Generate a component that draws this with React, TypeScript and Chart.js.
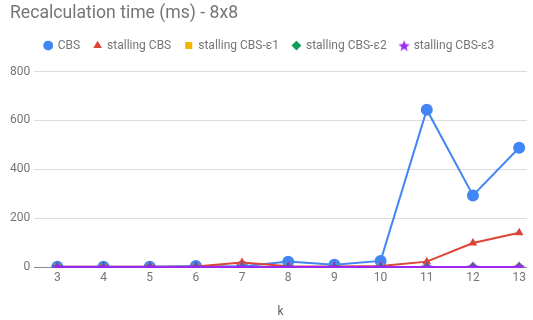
import React, { useEffect, useRef } from "react";
import { Chart, registerables } from "chart.js";

Chart.register(...registerables);

const kValues = [3, 4, 5, 6, 7, 8, 9, 10, 11, 12, 13];
const cbs = [1, 1, 1, 4, 2, 22, 9, 25, 644, 293, 488];
const stallingCbs = [1, 1, 1, 2, 18, 3, 2, 4, 22, 98, 140];
const stallingE1 = [0, 0, 0, 0, 0, 0, 0, 0, 0, 0, 0];
const stallingE2 = [0, 0, 0, 0, 0, 0, 0, 0, 0, 0, 0];
const stallingE3 = [0, 0, 0, 0, 0, 0, 0, 0, 0, 0, 0];
const yTicks = [0, 200, 400, 600, 800];
const titleText = "Recalculation time (ms) - 8x8";

const seriesNames = ["CBS", "stalling CBS", "stalling CBS-ε1", "stalling CBS-ε2", "stalling CBS-ε3"];
const seriesValues = [cbs, stallingCbs, stallingE1, stallingE2, stallingE3];
const seriesColors = ["#4285F4", "#DB4437", "#F4B400", "#0F9D58", "#9C27F5"];
const seriesShapes = ["circle", "triangle", "rect", "rectRot", "star"];
const seriesRadius = [6, 5, 4.5, 5, 6];

function makeStar(color: string, r: number) {
  const size = Math.ceil(r * 2 + 2);
  const c = document.createElement("canvas");
  c.width = size;
  c.height = size;
  const ctx = c.getContext("2d")!;
  const cx = size / 2;
  const cy = size / 2 + r * 0.1;
  ctx.beginPath();
  for (let i = 0; i < 10; i++) {
    const rad = i % 2 === 0 ? r : r * 0.42;
    const a = -Math.PI / 2 + (i * Math.PI) / 5;
    const x = cx + rad * Math.cos(a);
    const y = cy + rad * Math.sin(a);
    if (i === 0) ctx.moveTo(x, y);
    else ctx.lineTo(x, y);
  }
  ctx.closePath();
  ctx.fillStyle = color;
  ctx.fill();
  return c;
}

export default function App() {
  const ref = useRef<HTMLCanvasElement>(null);
  useEffect(() => {
    if (!ref.current) return;
    const font = "Roboto";
    const starImg = makeStar(seriesColors[4], 6.5);
    const starLegend = makeStar(seriesColors[4], 6);
    const legendSpacer = {
      id: "legendSpacer",
      beforeInit(chart: any) {
        const lg = chart.legend;
        if (!lg) return;
        const orig = lg.fit;
        lg.fit = function () {
          orig.call(this);
          this.height += 10;
        };
      },
    };
    const titleDrawer = {
      id: "titleDrawer",
      afterDraw(chart: any) {
        const ctx = chart.ctx;
        ctx.save();
        ctx.font = `17.6px ${font}`;
        ctx.fillStyle = "#757575";
        ctx.textBaseline = "middle";
        ctx.textAlign = "left";
        ctx.fillText(titleText, 10, 14);
        ctx.restore();
      },
    };
    const chart = new Chart(ref.current, {
      type: "line",
      data: {
        datasets: seriesNames.map((name, i) => ({
          label: name,
          data: seriesValues[i].map((v, j) => ({ x: kValues[j], y: v })),
          borderColor: seriesColors[i],
          backgroundColor: seriesColors[i],
          borderWidth: 2,
          pointStyle: (i === 4 ? starImg : seriesShapes[i]) as any,
          pointRadius: seriesRadius[i],
          pointBorderWidth: 0,
          pointBorderColor: seriesColors[i],
          order: 4 - i,
          clip: { left: 0, top: 0, right: 0, bottom: 1 } as any,
        })),
      },
      options: {
        animation: false,
        responsive: false,
        maintainAspectRatio: false,
        layout: { padding: { left: 6, right: 0, top: 0, bottom: 1 } },
        plugins: {
          title: {
            display: true,
            text: titleText,
            align: "start",
            color: "rgba(0,0,0,0)",
            font: { family: font, size: 18, weight: "normal" },
            padding: { top: 4, bottom: 0 },
          },
          legend: {
            display: true,
            labels: {
              usePointStyle: true,
              boxWidth: 7,
              boxHeight: 7,
              color: "#757575",
              font: { family: font, size: 12 },
              padding: 14,
              sort: (a: any, b: any) => a.datasetIndex - b.datasetIndex,
              generateLabels: (chart: any) => {
                const items = Chart.defaults.plugins.legend.labels.generateLabels(chart);
                items.forEach((it: any) => {
                  if (it.datasetIndex === 4) it.pointStyle = starLegend;
                  it.lineWidth = 0;
                });
                return items;
              },
            },
          },
          tooltip: { enabled: false },
        },
        scales: {
          x: {
            type: "linear",
            min: 2.5,
            max: 13.17,
            afterBuildTicks: (axis: any) => {
              axis.ticks = kValues.map((v) => ({ value: v }));
            },
            afterFit: (axis: any) => {
              axis.height = 52;
            },
            grid: { display: false, drawTicks: false, tickLength: 0 },
            border: { display: false },
            ticks: {
              color: "#757575",
              font: { family: font, size: 12 },
              padding: 4,
              maxRotation: 0,
              autoSkip: false,
            },
            title: {
              display: true,
              text: "k",
              color: "#616161",
              font: { family: font, size: 12 },
              padding: { top: 18, bottom: 0 },
            },
          },
          y: {
            min: 0,
            max: 800,
            afterBuildTicks: (axis: any) => {
              axis.ticks = yTicks.map((v) => ({ value: v }));
            },
            grid: {
              color: (ctx: any) => (ctx.tick && ctx.tick.value === 0 ? "#8a8a8a" : "#dcdcdc"),
              lineWidth: 1,
              drawTicks: false,
              tickLength: 0,
            },
            border: { display: false },
            ticks: {
              color: "#757575",
              font: { family: font, size: 12 },
              padding: 4,
            },
          },
        },
      },
      plugins: [legendSpacer, titleDrawer],
    });
    return () => chart.destroy();
  }, []);
  return (
    <div style={{ position: "absolute", left: 0, top: 0, width: 533, height: 320, background: "#fff" }}>
      <canvas ref={ref} width={533} height={320} style={{ display: "block" }} />
    </div>
  );
}
